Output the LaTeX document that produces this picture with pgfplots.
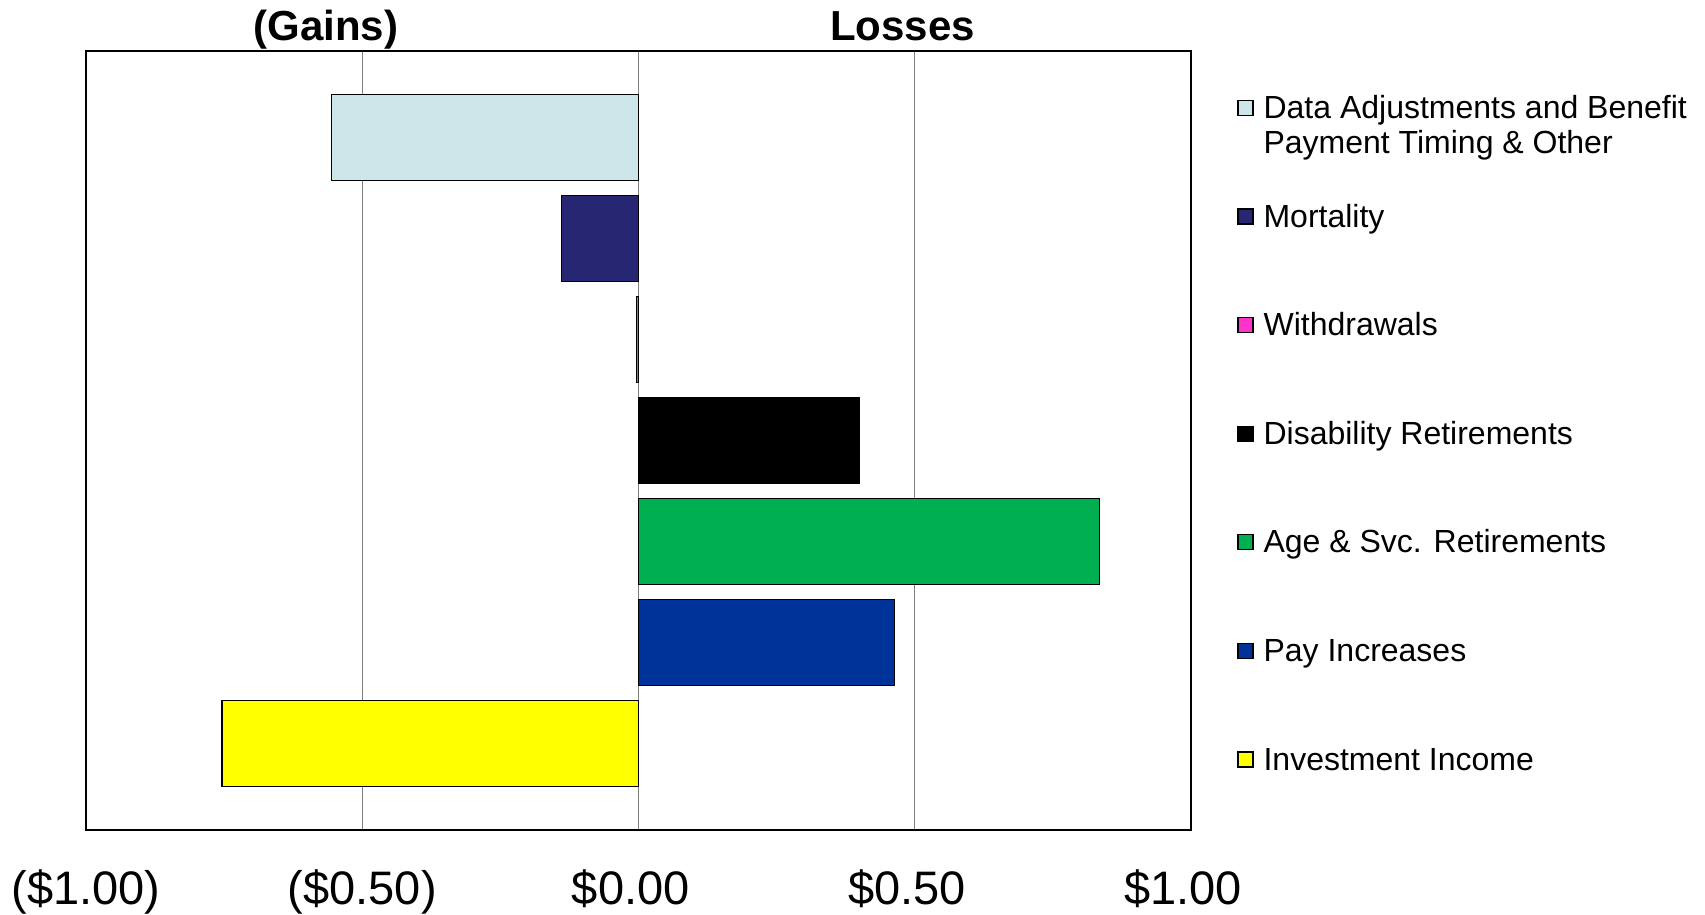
\documentclass[border=0pt]{standalone}
\usepackage{fontspec}
\setmainfont{Liberation Sans}
\newfontfamily\tickfont{Liberation Sans}
\newfontfamily\titlefont{Liberation Sans Bold}
\usepackage{pgfplots}
\pgfplotsset{compat=1.18}
\definecolor{cData}{RGB}{205,230,234}
\definecolor{cMort}{RGB}{38,38,115}
\definecolor{cWith}{RGB}{255,51,204}
\definecolor{cDis}{RGB}{0,0,0}
\definecolor{cAge}{RGB}{0,176,80}
\definecolor{cPay}{RGB}{0,51,153}
\definecolor{cInv}{RGB}{255,255,0}
\begin{document}
\begin{tikzpicture}
\useasboundingbox (-43pt,-42.5pt) rectangle (809.5pt,415pt);
\begin{axis}[
  at={(0,0)}, anchor=south west,
  width=552.5pt, height=389.5pt, scale only axis,
  xmin=-1, xmax=1, ymin=0.145, ymax=7.855,
  xbar, bar shift=0pt, bar width=0.85,
  xtick={-1,-0.5,0,0.5,1},
  xticklabels={{(\$1.00)},{(\$0.50)},{\$0.00\hphantom{)}},{\$0.50\hphantom{)}},{\$1.00\hphantom{)}}},
  xticklabel style={font=\fontsize{23.5}{26}\tickfont, anchor=base, yshift=-37.5pt},
  major tick length=0pt,
  ytick=\empty,
  xmajorgrids, major grid style={gray, line width=0.6pt},
  axis line style={black, line width=0.8pt},
  clip=false,
  legend style={at={(1.0416,0.9448)}, anchor=north west, draw=none, fill=none,
    inner sep=0pt, row sep=38.3pt, column sep=5pt,
    font=\fontsize{16}{17.4}\selectfont,
    nodes={anchor=base west, text height=12pt, text depth=4pt, inner sep=0pt}},
  legend cell align=left,
  legend image code/.code={\draw[#1, draw=black, line width=0.6pt] (0pt,1.5pt) rectangle (7.5pt,9pt);},
  every axis plot/.append style={draw=black, line width=0.6pt},
]
\addplot[fill=cData] coordinates {(-0.555,7)};
\addlegendentry{\begin{tabular}[t]{@{}l@{}}Data Adjustments and Benefit\\Payment Timing \& Other\end{tabular}}
\addplot[fill=cMort] coordinates {(-0.14,6)};
\addlegendentry{Mortality}
\addplot[fill=cWith] coordinates {(-0.003,5)};
\addlegendentry{Withdrawals}
\addplot[fill=cDis] coordinates {(0.40,4)};
\addlegendentry{Disability Retirements}
\addplot[fill=cAge] coordinates {(0.835,3)};
\addlegendentry{Age \& Svc. Retirements}
\addplot[fill=cPay] coordinates {(0.463,2)};
\addlegendentry{Pay Increases}
\addplot[fill=cInv] coordinates {(-0.754,1)};
\addlegendentry{Investment Income}
\node[font=\fontsize{21}{24}\titlefont, anchor=base, yshift=5pt] at (axis cs:-0.566,7.855) {(Gains)};
\node[font=\fontsize{21}{24}\titlefont, anchor=base, yshift=5pt] at (axis cs:0.478,7.855) {Losses};
\end{axis}
\end{tikzpicture}
\end{document}
